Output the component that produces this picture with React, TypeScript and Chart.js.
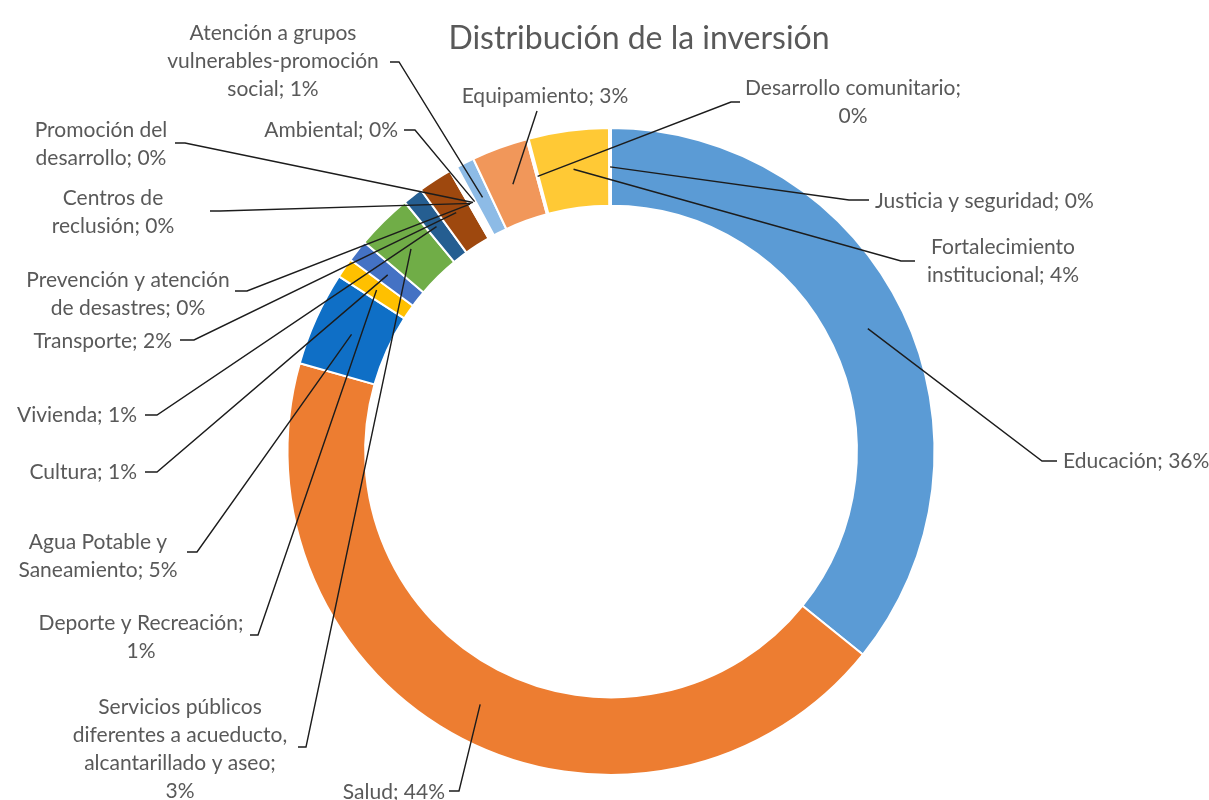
import React, { useEffect, useRef } from "react";
import { Chart, registerables } from "chart.js";

Chart.register(...registerables);

// ---------- data ----------
const chartTitle = "Distribución de la inversión";

const categories = [
  "Educación",
  "Salud",
  "Agua Potable y Saneamiento",
  "Deporte y Recreación",
  "Cultura",
  "Servicios públicos diferentes a acueducto, alcantarillado y aseo",
  "Vivienda",
  "Transporte",
  "Prevención y atención de desastres",
  "Centros de reclusión",
  "Promoción del desarrollo",
  "Ambiental",
  "Atención a grupos vulnerables-promoción social",
  "Equipamiento",
  "Desarrollo comunitario",
  "Fortalecimiento institucional",
  "Justicia y seguridad",
];

// percentage of total investment
const values = [35.8, 43.6, 4.7, 1.0, 1.1, 2.8, 1.0, 1.7, 0.1, 0.1, 0.1, 0.1, 0.9, 2.8, 0.1, 4.0, 0.1];

const colors = [
  "#5B9BD5",
  "#ED7D31",
  "#0F6FC6",
  "#FFC000",
  "#4472C4",
  "#70AD47",
  "#255E91",
  "#9E480E",
  "#636363",
  "#997300",
  "#264478",
  "#43682B",
  "#8DBBE6",
  "#F1975A",
  "#B7B7B7",
  "#FFC935",
  "#698ED0",
];

// ---------- layout (label placement, not data) ----------
type LabelLayout = {
  x: number;
  y: number;
  align: CanvasTextAlign;
  wrap: number[];
  ax: number;
  ay: number;
  stub: number;
};

const labelLayout: LabelLayout[] = [
  { x: 1063, y: 461, align: "left", wrap: [99], ax: 1057, ay: 461, stub: -15 }, // Educación
  { x: 445, y: 792, align: "right", wrap: [99], ax: 449, ay: 791, stub: 10 }, // Salud
  { x: 98, y: 542, align: "center", wrap: [3, 2], ax: 187, ay: 552, stub: 10 }, // Agua
  { x: 141, y: 623, align: "center", wrap: [3, 1], ax: 250, ay: 635, stub: 8 }, // Deporte
  { x: 137, y: 472, align: "right", wrap: [99], ax: 145, ay: 472, stub: 12 }, // Cultura
  { x: 180, y: 707, align: "center", wrap: [2, 3, 3, 1], ax: 298, ay: 747, stub: 8 }, // Servicios
  { x: 137, y: 415, align: "right", wrap: [99], ax: 145, ay: 415, stub: 12 }, // Vivienda
  { x: 172, y: 341, align: "right", wrap: [99], ax: 180, ay: 340, stub: 14 }, // Transporte
  { x: 128, y: 280, align: "center", wrap: [3, 3], ax: 235, ay: 291, stub: 12 }, // Prevención
  { x: 113, y: 198, align: "center", wrap: [2, 2], ax: 210, ay: 211, stub: 10 }, // Centros
  { x: 101, y: 130, align: "center", wrap: [2, 2], ax: 175, ay: 143, stub: 10 }, // Promoción
  { x: 398, y: 130, align: "right", wrap: [99], ax: 404, ay: 130, stub: 11 }, // Ambiental
  { x: 273, y: 33, align: "center", wrap: [3, 1, 2], ax: 390, ay: 62, stub: 9 }, // Atención
  { x: 545, y: 96, align: "center", wrap: [99], ax: 537, ay: 111, stub: 0 }, // Equipamiento
  { x: 853, y: 88, align: "center", wrap: [2, 1], ax: 740, ay: 102, stub: -9 }, // Desarrollo
  { x: 1003, y: 247, align: "center", wrap: [1, 2], ax: 915, ay: 261, stub: -14 }, // Fortalecimiento
  { x: 875, y: 201, align: "left", wrap: [99], ax: 869, ay: 200, stub: -20 }, // Justicia
];

const LINE_H = 28;
const TEXT_COLOR = "#595959";
const LABEL_FONT = "21px Lato";
const TITLE_FONT = "32px Lato";

const leaderPlugin = {
  id: "leaderLabels",
  afterDatasetsDraw(chart: any) {
    const ctx: CanvasRenderingContext2D = chart.ctx;
    const meta = chart.getDatasetMeta(0);
    const total = values.reduce((a, b) => a + b, 0);
    ctx.save();
    // title
    ctx.fillStyle = TEXT_COLOR;
    ctx.font = TITLE_FONT;
    ctx.textAlign = "center";
    ctx.textBaseline = "alphabetic";
    ctx.fillText(chartTitle, 639, 49);

    ctx.font = LABEL_FONT;
    ctx.textBaseline = "middle";
    ctx.strokeStyle = "#1c1c1c";
    ctx.lineWidth = 1.4;
    categories.forEach((cat, i) => {
      const L = labelLayout[i];
      const pct = Math.round((values[i] / total) * 100);
      const words = `${cat}; ${pct}%`.split(" ");
      const lines: string[] = [];
      let k = 0;
      L.wrap.forEach((n, j) => {
        const isLast = j === L.wrap.length - 1;
        lines.push(words.slice(k, isLast ? words.length : k + n).join(" "));
        k += n;
      });
      ctx.textAlign = L.align;
      lines.forEach((ln, j) => ctx.fillText(ln, L.x, L.y + j * LINE_H));

      const p = meta.data[i].getCenterPoint();
      ctx.beginPath();
      ctx.moveTo(L.ax, L.ay);
      if (L.stub) ctx.lineTo(L.ax + L.stub, L.ay);
      ctx.lineTo(p.x, p.y);
      ctx.stroke();
    });
    ctx.restore();
  },
};

export default function App() {
  const canvasRef = useRef<HTMLCanvasElement | null>(null);

  useEffect(() => {
    if (!canvasRef.current) return;
    const chart = new Chart(canvasRef.current, {
      type: "doughnut",
      data: {
        labels: categories,
        datasets: [
          {
            data: values,
            backgroundColor: colors,
            borderColor: "#ffffff",
            borderWidth: 2,
          },
        ],
      },
      options: {
        responsive: false,
        animation: false,
        devicePixelRatio: 1,
        cutout: "76%",
        layout: { padding: { left: 13, right: 0, top: 127, bottom: 24 } },
        plugins: {
          legend: { display: false },
          title: { display: false },
          tooltip: { enabled: false },
        },
      },
      plugins: [leaderPlugin],
    });
    return () => chart.destroy();
  }, []);

  return (
    <div style={{ position: "fixed", left: 0, top: 0, width: 1209, height: 800, background: "#ffffff" }}>
      <canvas ref={canvasRef} width={1209} height={800} style={{ display: "block" }} />
    </div>
  );
}
